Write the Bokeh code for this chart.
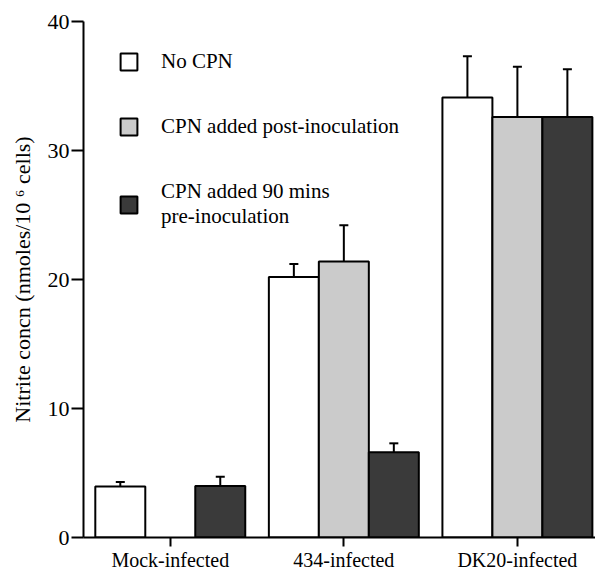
import math
from bokeh.plotting import figure
from bokeh.models import (ColumnDataSource, Legend, LegendItem, FixedTicker,
                          Whisker, TeeHead, Range1d)
from bokeh.transform import dodge
from bokeh.embed import file_html
from bokeh.resources import INLINE

nan = float("nan")

# ---- data ----
groups = ["Mock-infected", "434-infected", "DK20-infected"]
series_labels = ["No CPN", "CPN added post-inoculation",
                 "CPN added 90 mins\npre-inoculation"]
no_cpn = [3.95, 20.2, 34.1]
no_cpn_err = [0.35, 1.0, 3.2]
post_inoc = [nan, 21.4, 32.6]
post_inoc_err = [nan, 2.8, 3.9]
pre_inoc = [4.0, 6.6, 32.6]
pre_inoc_err = [0.7, 0.7, 3.7]
y_ticks = [0, 10, 20, 30, 40]

FONT = "Liberation Serif"
fills = ["#ffffff", "#cbcbcb", "#3a3a3a"]
bar_w = 0.288
offsets = [-bar_w, 0.0, bar_w]

xpos = [i + 0.5 for i in range(len(groups))]

p = figure(width=595, height=573, output_backend="svg", toolbar_location=None,
           x_range=Range1d(0, 2.95), y_range=Range1d(0, 40),
           min_border_left=83, min_border_right=0, min_border_top=21,
           min_border_bottom=36)
p.outline_line_color = None
p.xgrid.visible = False
p.ygrid.visible = False
p.background_fill_color = "white"
p.border_fill_color = "white"

renderers = []
for vals, errs, off, col in zip([no_cpn, post_inoc, pre_inoc],
                                [no_cpn_err, post_inoc_err, pre_inoc_err],
                                offsets, fills):
    hi = [v + e for v, e in zip(vals, errs)]
    src = ColumnDataSource(dict(x=xpos, top=vals, hi=hi))
    r = p.vbar(x=dodge("x", off), top="top", bottom=0, width=bar_w, source=src,
               fill_color=col, line_color="black", line_width=2)
    renderers.append(r)
    w = Whisker(source=src, base=dodge("x", off), lower="top", upper="hi",
                dimension="height", line_color="black", line_width=2,
                upper_head=TeeHead(size=9, line_width=2, line_color="black"),
                lower_head=None)
    p.add_layout(w)

# axes
p.xaxis.ticker = FixedTicker(ticks=xpos)
p.xaxis.major_label_overrides = {x: g for x, g in zip(xpos, groups)}
p.xaxis.minor_tick_line_color = None
p.xaxis.major_tick_in = 0
p.xaxis.major_tick_out = 9
p.xaxis.axis_line_width = 2
p.xaxis.major_tick_line_width = 2
p.xaxis.major_label_standoff = 2
p.xaxis.major_label_text_font = FONT
p.xaxis.major_label_text_font_size = "20px"
p.xaxis.major_label_text_color = "black"

p.yaxis.ticker = FixedTicker(ticks=y_ticks)
p.yaxis.minor_tick_line_color = None
p.yaxis.major_tick_in = 0
p.yaxis.major_tick_out = 12
p.yaxis.axis_line_width = 2
p.yaxis.major_tick_line_width = 2
p.yaxis.major_label_standoff = 2
p.yaxis.major_label_text_font = FONT
p.yaxis.major_label_text_font_size = "22px"
p.yaxis.major_label_text_color = "black"
p.yaxis.axis_label = "Nitrite concn (nmoles/10 \u2076 cells)"
p.yaxis.axis_label_text_font = FONT
p.yaxis.axis_label_text_font_style = "normal"
p.yaxis.axis_label_text_font_size = "22px"
p.yaxis.axis_label_text_color = "black"
p.yaxis.axis_label_standoff = 10

legend = Legend(items=[LegendItem(label=l, renderers=[r])
                       for l, r in zip(series_labels, renderers)],
                location=(35, 308), border_line_color=None,
                background_fill_alpha=0, label_text_font=FONT,
                label_text_font_size="21px", label_text_color="black",
                glyph_width=21, glyph_height=21, label_standoff=22,
                spacing=40, margin=0, padding=0)
p.add_layout(legend)

open("out.html", "w").write(file_html(p, INLINE))
